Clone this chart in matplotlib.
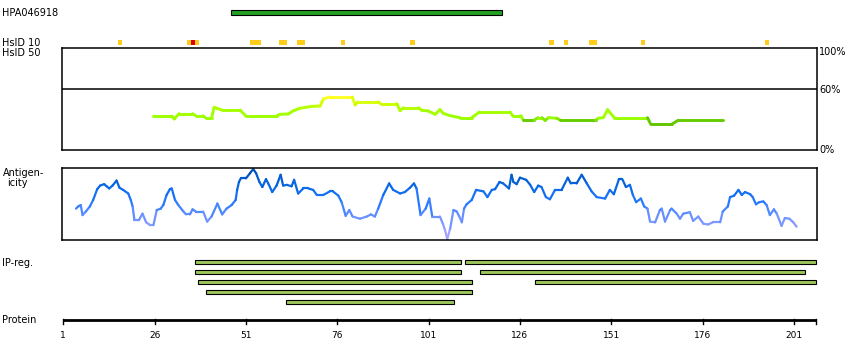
import matplotlib
matplotlib.use('Agg')
import matplotlib.pyplot as plt
import matplotlib.transforms as mtransforms
from matplotlib.collections import LineCollection
from matplotlib.colors import LinearSegmentedColormap
from matplotlib.patches import Rectangle
import numpy as np

# ---- data ----
protein_len = 207
tick_pos = [1, 26, 51, 76, 101, 126, 151, 176, 201]

antibody_name = 'HPA046918'
antibody_start = 47
antibody_end = 121

hsid10_yellow = [16, 35, 37, 52, 53, 54, 60, 61, 65, 66, 77, 96, 134, 138, 145, 146, 159, 193]
hsid10_red = [36]

hsid50_pos = [25.7, 30.7, 31.4, 32.7, 36.4, 37.3, 39.2, 40.0, 41.6, 42.3, 43.0, 44.4,
              49.4, 51.0, 59.4, 60.3, 62.6, 64.0, 65.8, 69.0, 71.3, 72.2, 74.0, 80.1,
              80.9, 81.6, 87.2, 87.9, 92.3, 93.2, 94.1, 98.2, 99.1, 100.9, 102.8, 104.1,
              105.0, 106.9, 109.6, 112.8, 114.9, 123.3, 124.0, 126.2, 126.9, 129.9, 131.0,
              132.0, 132.9, 133.8, 136.1, 137.0, 146.8, 147.4, 148.8, 150.0, 151.8, 160.9,
              161.8, 167.5, 169.3, 181.7]
hsid50_pct = [33.6, 33.6, 30.7, 35.9, 35.9, 33.9, 33.9, 31.7, 31.7, 42.2, 41.3, 39.5,
              39.5, 33.6, 33.6, 35.3, 35.6, 38.8, 41.2, 43.1, 43.4, 50.3, 52.3, 52.3,
              44.4, 47.4, 47.4, 45.7, 45.7, 38.8, 41.8, 41.8, 39.2, 38.6, 35.3, 39.8,
              36.2, 33.9, 32.0, 32.0, 37.5, 37.5, 33.9, 33.9, 29.7, 29.7, 32.0,
              32.0, 29.2, 32.0, 31.4, 29.7, 29.7, 31.4, 32.0, 39.8, 32.0, 32.0,
              25.5, 25.5, 29.4, 29.4]

antigen_pos = [4.5, 5.1, 5.8, 6.3, 7.2, 8.3, 9.2, 10.3, 11.1, 12.2, 12.9, 13.6, 14.5, 15.6,
               16.4, 17.4, 18.8, 19.5, 20.0, 20.5, 21.7, 22.7, 23.7, 24.8, 25.7, 26.6, 27.7,
               28.4, 29.3, 30.2, 30.7, 31.6, 32.5, 33.9, 34.6, 35.7, 36.4, 37.3, 39.3, 40.4,
               41.6, 43.2, 44.5, 45.7, 47.1, 48.2, 48.6, 49.1, 49.6, 51.0, 52.1, 53.0, 53.8,
               54.7, 55.5, 56.5, 57.3, 58.2, 59.4, 60.5, 61.2, 62.2, 63.5, 64.2, 65.3, 66.7,
               68.1, 69.4, 70.4, 72.2, 74.0, 74.8, 76.3, 77.2, 78.3, 79.3, 80.2, 82.2, 84.1,
               85.2, 86.3, 87.2, 88.6, 90.2, 91.3, 93.2, 94.5, 95.9, 97.0, 97.7, 98.8, 100.2,
               101.2, 102.0, 104.1, 104.9, 105.5, 106.1, 106.9, 107.8, 108.7, 109.4, 110.1,
               110.7, 111.4, 112.8, 114.0, 116.0, 117.1, 118.3, 119.2, 120.4, 121.4, 123.0,
               123.7, 124.2, 125.1, 126.0, 127.7, 128.8, 129.9, 131.0, 131.9, 133.1, 134.2,
               135.6, 137.4, 139.1, 139.9, 141.5, 142.9, 144.3, 145.6, 147.0, 149.3, 150.6,
               151.7, 153.1, 154.0, 155.0, 156.1, 156.9, 157.8, 159.1, 160.0, 160.9, 161.6,
               163.0, 164.3, 164.8, 165.7, 167.1, 167.5, 168.9, 169.8, 170.7, 172.5, 173.4,
               174.8, 176.2, 177.5, 178.8, 180.8, 181.5, 182.9, 183.5, 184.6, 185.8, 186.7,
               187.6, 189.0, 189.7, 190.6, 191.5, 192.6, 193.5, 194.4, 195.5, 196.3, 197.6,
               198.5, 199.7, 200.8, 201.7]
antigen_val = [0.44, 0.47, 0.49, 0.35, 0.40, 0.47, 0.56, 0.71, 0.76, 0.78, 0.75, 0.72, 0.76, 0.83,
               0.73, 0.70, 0.65, 0.56, 0.47, 0.28, 0.28, 0.37, 0.25, 0.21, 0.21, 0.42, 0.44,
               0.49, 0.63, 0.71, 0.72, 0.56, 0.49, 0.40, 0.36, 0.36, 0.43, 0.40, 0.40, 0.26,
               0.33, 0.51, 0.36, 0.44, 0.49, 0.56, 0.70, 0.81, 0.86, 0.86, 0.93, 0.99, 0.93,
               0.81, 0.74, 0.85, 0.77, 0.67, 0.76, 0.91, 0.76, 0.77, 0.75, 0.84, 0.65, 0.72,
               0.72, 0.70, 0.63, 0.63, 0.68, 0.68, 0.62, 0.53, 0.34, 0.42, 0.33, 0.30, 0.33,
               0.36, 0.33, 0.44, 0.63, 0.79, 0.70, 0.65, 0.67, 0.73, 0.79, 0.72, 0.35, 0.44,
               0.58, 0.33, 0.33, 0.23, 0.14, 0.02, 0.16, 0.42, 0.40, 0.33, 0.25,
               0.44, 0.50, 0.56, 0.70, 0.68, 0.60, 0.70, 0.71, 0.81, 0.79, 0.72,
               0.91, 0.81, 0.78, 0.87, 0.84, 0.77, 0.67, 0.76, 0.74, 0.60, 0.57,
               0.70, 0.70, 0.87, 0.79, 0.79, 0.91, 0.79, 0.68, 0.60, 0.58, 0.70,
               0.64, 0.85, 0.85, 0.74, 0.77, 0.63, 0.53, 0.58, 0.47, 0.44, 0.26,
               0.25, 0.42, 0.44, 0.26, 0.42, 0.44, 0.37, 0.30, 0.37, 0.39, 0.27,
               0.33, 0.23, 0.22, 0.25, 0.25, 0.40, 0.47, 0.60, 0.62, 0.70, 0.63,
               0.67, 0.64, 0.60, 0.50, 0.53, 0.54, 0.49, 0.35, 0.43, 0.37, 0.20,
               0.31, 0.30, 0.25, 0.19]

ipreg_row = [0, 0, 1, 1, 2, 2, 3, 4]
ipreg_start = [37, 111, 37, 115, 38, 130, 40, 62]
ipreg_end = [110, 207, 110, 204, 113, 207, 113, 108]

# ---- layout (pixels) ----
W, H = 850, 360
PPR = 3.654                 # pixels per residue
X0 = 1 - 63.2 / PPR         # residue at pixel 0
X1 = X0 + W / PPR

def px2r(px):
    return X0 + px / PPR

fig = plt.figure(figsize=(8.5, 3.6), dpi=100)
pix = mtransforms.Affine2D().scale(1.0 / W, -1.0 / H).translate(0, 1) + fig.transFigure

ax = fig.add_axes([0, 0, 1, 1])
ax.set_xlim(X0, X1)
ax.set_ylim(H, 0)
ax.axis('off')

FS = 7
txt = dict(fontsize=FS, color='black', va='center', ha='left', family='DejaVu Sans')

# antibody bar
fig.text(2, 12.5, antibody_name, transform=pix, **txt)
ax.add_patch(Rectangle((antibody_start, 10.3), antibody_end - antibody_start, 4.4,
                       facecolor='#22a022', edgecolor='black', linewidth=0.8))

# HsID 10 marks
fig.text(2, 42.5, 'HsID 10', transform=pix, **txt)
fig.text(2, 53.5, 'HsID 50', transform=pix, **txt)
for r in hsid10_yellow:
    ax.add_patch(Rectangle((r, 40), 1.2, 5, facecolor='#ffcc1a', edgecolor='none'))
for r in hsid10_red:
    ax.add_patch(Rectangle((r, 40), 1.2, 5, facecolor='#e00000', edgecolor='none'))

# IP-reg bars
fig.text(2, 263, 'IP-reg.', transform=pix, **txt)
for row, s, e in zip(ipreg_row, ipreg_start, ipreg_end):
    ax.add_patch(Rectangle((s, 260.3 + row * 10), e - s, 4,
                           facecolor='#9dc75b', edgecolor='black', linewidth=0.8))

# protein axis
fig.text(2, 320, 'Protein', transform=pix, **txt)
ax.plot([1, protein_len], [319.5, 319.5], color='black', linewidth=2, solid_capstyle='butt')
for t in tick_pos + [protein_len]:
    ax.plot([t, t], [319, 324], color='black', linewidth=1)
for t in tick_pos:
    ax.text(t, 336, str(t), fontsize=6.5, ha='center', va='center', family='DejaVu Sans')

# ---- HsID 50 panel ----
bl, br = 62.3, 816.7
axh = fig.add_axes([bl / W, 1 - 150.3 / H, (br - bl) / W, (150.3 - 48.3) / H])
axh.set_xlim(px2r(bl), px2r(br))
axh.set_ylim(0, 100)
axh.set_xticks([])
axh.set_yticks([])
for s in axh.spines.values():
    s.set_linewidth(1.1)
axh.axhline(60, color='black', linewidth=1.1)

cm_h = LinearSegmentedColormap.from_list('hs', [
    (0.0, '#4fa000'), (0.30, '#66cc00'), (0.31, '#99ff00'), (0.40, '#a8ff00'),
    (0.46, '#ccff00'), (0.52, '#ffff22'), (1.0, '#ffff22')])
hx = np.array(hsid50_pos)
hy = np.array(hsid50_pct)
seg = np.stack([np.column_stack([hx[:-1], hy[:-1]]), np.column_stack([hx[1:], hy[1:]])], axis=1)
mid = (hy[:-1] + hy[1:]) / 2 / 100
axh.add_collection(LineCollection(seg, colors=cm_h(mid), linewidths=2.1, capstyle='round'))

fig.text(819, 52, '100%', transform=pix, **txt)
fig.text(819, 90, '60%', transform=pix, **txt)
fig.text(819, 150, '0%', transform=pix, **txt)

# ---- antigenicity panel ----
axa = fig.add_axes([bl / W, 1 - 240.3 / H, (817.3 - bl) / W, (240.3 - 168.3) / H])
axa.set_xlim(px2r(bl), px2r(817.3))
axa.set_ylim(0, 1)
axa.set_xticks([])
axa.set_yticks([])
for s in axa.spines.values():
    s.set_linewidth(1.1)

cm_a = LinearSegmentedColormap.from_list('ag', [
    (0.0, '#b4a8ff'), (0.2, '#8a9cff'), (0.35, '#6690ff'), (0.5, '#2c7cff'),
    (0.7, '#0c6cf0'), (0.9, '#0058c8'), (1.0, '#004aa8')])
gx = np.array(antigen_pos)
gy = np.array(antigen_val)
seg = np.stack([np.column_stack([gx[:-1], gy[:-1]]), np.column_stack([gx[1:], gy[1:]])], axis=1)
mid = (gy[:-1] + gy[1:]) / 2
axa.add_collection(LineCollection(seg, colors=cm_a(mid), linewidths=1.6, capstyle='round'))

fig.text(3, 173.5, 'Antigen-', transform=pix, **txt)
fig.text(7, 183.5, 'icity', transform=pix, **txt)

fig.savefig('out.png', dpi=100)
